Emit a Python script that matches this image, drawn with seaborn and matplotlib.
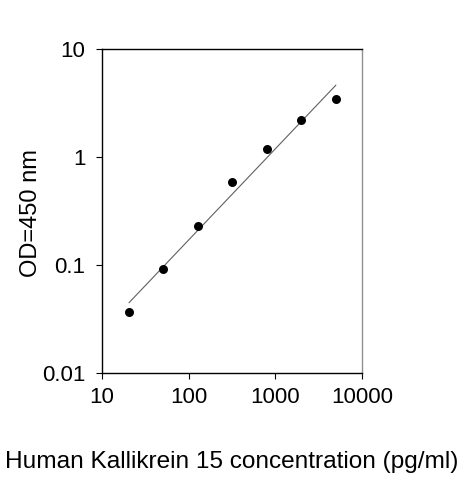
import numpy as np
import pandas as pd
import matplotlib
matplotlib.use("Agg")
import matplotlib.pyplot as plt
from matplotlib.ticker import FixedLocator, FuncFormatter, NullLocator
import seaborn as sns

# standard curve data
conc = [20.48, 51.2, 128, 320, 800, 2000, 5000]
od = [0.0367, 0.091, 0.228, 0.586, 1.19, 2.21, 3.44]
x_ticks = [10, 100, 1000, 10000]
y_ticks = [0.01, 0.1, 1, 10]

sns.set_style("white")
plt.rcParams["font.family"] = ["Liberation Sans", "DejaVu Sans"]

df = pd.DataFrame({"conc": conc, "od": od})

# power fit (straight line in log-log space)
slope, icpt = np.polyfit(np.log10(df["conc"]), np.log10(df["od"]), 1)
fit = pd.DataFrame({"conc": [df["conc"].min(), df["conc"].max()]})
fit["od"] = 10 ** (icpt + slope * np.log10(fit["conc"]))

fig = plt.figure(figsize=(4.63, 4.8), dpi=100)
ax = fig.add_axes([102 / 463, 1 - 373 / 480, 260 / 463, 324 / 480])

sns.lineplot(data=fit, x="conc", y="od", ax=ax, color="#606060", lw=0.8)
sns.scatterplot(data=df, x="conc", y="od", ax=ax, color="black", s=42,
                edgecolor="black", linewidth=0, zorder=3)

ax.set_xscale("log")
ax.set_yscale("log")
ax.set_xlim(10, 10000)
ax.set_ylim(0.01, 10)
ax.xaxis.set_major_locator(FixedLocator(x_ticks))
ax.yaxis.set_major_locator(FixedLocator(y_ticks))
ax.xaxis.set_minor_locator(NullLocator())
ax.yaxis.set_minor_locator(NullLocator())
fmt = FuncFormatter(lambda v, p: f"{v:g}")
ax.xaxis.set_major_formatter(fmt)
ax.yaxis.set_major_formatter(fmt)

ax.tick_params(axis="both", which="major", length=4, width=0.8, color="black",
               bottom=True, left=True, direction="out", labelsize=16,
               labelcolor="black")
ax.tick_params(axis="x", pad=6)
ax.tick_params(axis="y", pad=8)

for side in ["left", "bottom", "top"]:
    ax.spines[side].set_color("black")
    ax.spines[side].set_linewidth(1.0)
ax.spines["right"].set_color("#909090")
ax.spines["right"].set_linewidth(1.0)

ax.set_xlabel("Human Kallikrein 15 concentration (pg/ml)", fontsize=17.6,
              color="black")
ax.xaxis.label.set_va("center")
ax.xaxis.set_label_coords(0.5, -0.275)
ax.set_ylabel("OD=450 nm", fontsize=17, color="black")
ax.yaxis.label.set_va("center")
ax.yaxis.set_label_coords(-0.273, 0.495)

fig.savefig("out.png", dpi=100)
